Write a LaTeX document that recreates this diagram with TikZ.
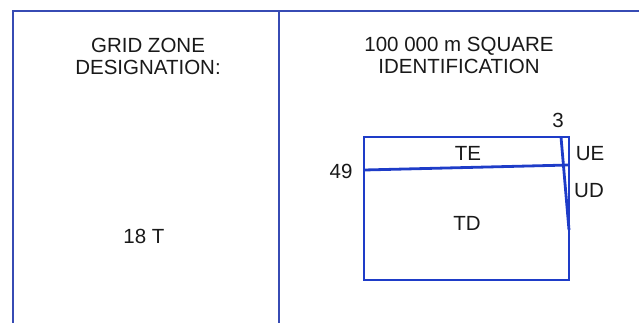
\documentclass[tikz,border=0pt]{standalone}
\usepackage{fontspec}
\setmainfont{Liberation Sans}
\definecolor{frameblue}{RGB}{55,75,180}
\definecolor{mapblue}{RGB}{30,60,200}
\definecolor{txt}{RGB}{25,25,25}
\begin{document}
\begin{tikzpicture}[x=1pt,y=-1pt,
  frameline/.style={draw=frameblue,line width=2.3pt},
  mapline/.style={draw=mapblue,line width=2.8pt},
  lbl/.style={font=\fontsize{20.5}{21.5}\selectfont,text=txt,inner sep=0pt,anchor=base,align=center}]
\useasboundingbox (0,0) rectangle (639,322);
% outer frame
\coordinate (fbl) at (13,323);
\coordinate (ftl) at (13,11);
\coordinate (ftr) at (640,11);
\coordinate (fmt) at (279,11);
\coordinate (fmb) at (279,323);
\draw[frameline] (fbl) -- (ftl) -- (ftr);
\draw[frameline] (fmt) -- (fmb);
% headings (base anchor = baseline of last line)
\node[lbl] (gzd) at (148,74) {GRID ZONE\\DESIGNATION:};
\node[lbl] (sqid) at (459,73) {100 000 m SQUARE\\IDENTIFICATION};
\node[lbl] (zone) at (144,243) {18 T};
% square map
\coordinate (ra) at (364,137);
\coordinate (rb) at (569,280);
\draw[mapline] (ra) rectangle (rb);
\coordinate (p49a) at (364,170);
\coordinate (p49b) at (569,165);
\draw[mapline] (p49a) -- (p49b);
\coordinate (p3a) at (561,137);
\coordinate (p3b) at (569,230);
\draw[mapline] (p3a) -- (p3b);
\node[lbl] (three) at (558,127) {3};
\node[lbl] (te) at (468,160) {TE};
\node[lbl] (ue) at (590,160) {UE};
\node[lbl] (n49) at (341,178) {49};
\node[lbl] (ud) at (589,197) {UD};
\node[lbl] (td) at (467,230) {TD};
\end{tikzpicture}
\end{document}
